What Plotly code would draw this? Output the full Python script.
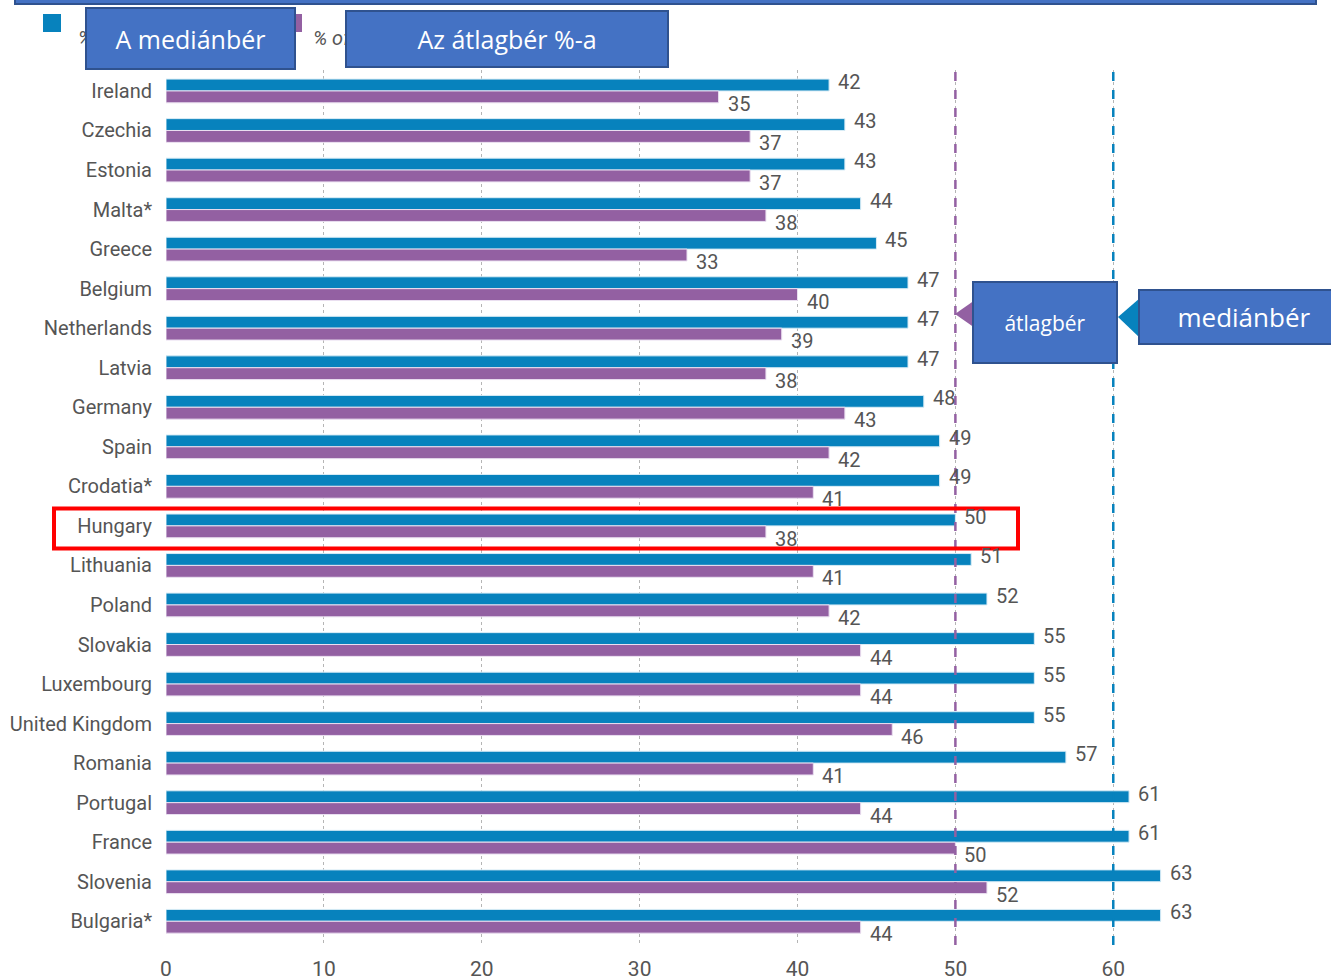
import plotly.graph_objects as go

countries = ["Ireland", "Czechia", "Estonia", "Malta*", "Greece", "Belgium", "Netherlands",
             "Latvia", "Germany", "Spain", "Crodatia*", "Hungary", "Lithuania", "Poland",
             "Slovakia", "Luxembourg", "United Kingdom", "Romania", "Portugal", "France",
             "Slovenia", "Bulgaria*"]
pct_median = [42, 43, 43, 44, 45, 47, 47, 47, 48, 49, 49, 50, 51, 52, 55, 55, 55, 57, 61, 61, 63, 63]
pct_mean = [35, 37, 37, 38, 33, 40, 39, 38, 43, 42, 41, 38, 41, 42, 44, 44, 46, 41, 44, 50, 52, 44]
x_ticks = [0, 10, 20, 30, 40, 50, 60]
mean_ref = 50
median_ref = 60
highlight = "Hungary"

BLUE = "#0782BD"
PURPLE = "#9360A2"
BOX = "#4472C4"
BOXLINE = "#2F528F"
GRAY = "#555555"
COND = "Roboto, Liberation Sans Narrow, DejaVu Sans Condensed, sans-serif"

W, H = 1331, 980
ML, MR, MT, MB = 166, 123, 70, 35
PW, PH = W - ML - MR, H - MT - MB
Y_RANGE = [21.6, -0.53]


def px(x):
    return (x - ML) / PW


def py(y):
    return (H - MB - y) / PH


def row_px(i):
    return MT + (i - Y_RANGE[1]) / (Y_RANGE[0] - Y_RANGE[1]) * PH


fig = go.Figure()
fig.add_trace(go.Bar(y=countries, x=pct_median, orientation="h", name="% of median",
                     marker=dict(color=BLUE, line=dict(color="#d8ecf6", width=1)),
                     showlegend=False))
fig.add_trace(go.Bar(y=countries, x=pct_mean, orientation="h", name="% of average",
                     marker=dict(color=PURPLE, line=dict(color="#eadff0", width=1)),
                     showlegend=False))

annotations = []
lab_font = dict(family=COND, size=20, color=GRAY)
for c, a, b in zip(countries, pct_median, pct_mean):
    annotations.append(dict(x=a, y=c, xref="x", yref="y", text=str(a), showarrow=False,
                            xanchor="left", xshift=7, yshift=9, font=lab_font))
    annotations.append(dict(x=b, y=c, xref="x", yref="y", text=str(b), showarrow=False,
                            xanchor="left", xshift=7, yshift=-13, font=lab_font))

# legend (partially covered by boxes, as in the original)
annotations.append(dict(x=px(76), y=py(24), xref="paper", yref="paper", text="<i>% of median</i>",
                        showarrow=False, xanchor="left", font=lab_font))
annotations.append(dict(x=px(311), y=py(24), xref="paper", yref="paper", text="<i>% of average</i>",
                        showarrow=False, xanchor="left", font=lab_font))


def box(text, x0, y0, x1, y1, size):
    return dict(x=px(x0), y=py(y0), xref="paper", yref="paper", xanchor="left", yanchor="top",
                text=text, showarrow=False, bgcolor=BOX, bordercolor=BOXLINE, borderwidth=2,
                borderpad=0, width=x1 - x0 - 4, height=y1 - y0 - 4, align="center", valign="middle",
                font=dict(family="Open Sans, Liberation Sans, sans-serif", size=size, color="white"))


annotations.append(box("A mediánbér", 85, 7, 296, 70, 25))
annotations.append(box("Az átlagbér %-a", 345, 10, 669, 68, 25))
annotations.append(box("átlagbér", 972, 281, 1118, 364, 21))
annotations.append(box("mediánbér", 1138, 289, 1350, 345, 26))

hi = countries.index(highlight)
row_c = row_px(hi)
shapes = [
    # top border of an upper box, cut off by the page
    dict(type="rect", xref="paper", yref="paper", x0=px(15), x1=px(1316), y0=py(-10), y1=py(4),
         fillcolor=BOX, line=dict(color=BOXLINE, width=2), layer="above"),
    # legend squares
    dict(type="rect", xref="paper", yref="paper", x0=px(43), x1=px(61), y0=py(32), y1=py(14),
         fillcolor=BLUE, line=dict(width=0), layer="above"),
    dict(type="rect", xref="paper", yref="paper", x0=px(290), x1=px(302), y0=py(32), y1=py(14),
         fillcolor=PURPLE, line=dict(width=0), layer="above"),
    # reference lines
    dict(type="line", xref="x", yref="paper", x0=mean_ref, x1=mean_ref, y0=0, y1=1.0,
         line=dict(color=PURPLE, width=2.5, dash="dash"), layer="above"),
    dict(type="line", xref="x", yref="paper", x0=median_ref, x1=median_ref, y0=0, y1=1.0,
         line=dict(color=BLUE, width=2.5, dash="dash"), layer="above"),
    # callout pointers
    dict(type="path", xref="paper", yref="paper",
         path=f"M {px(955)} {py(314)} L {px(975)} {py(300)} L {px(975)} {py(328)} Z",
         fillcolor=PURPLE, line=dict(width=0), layer="above"),
    dict(type="path", xref="paper", yref="paper",
         path=f"M {px(1118)} {py(317)} L {px(1140)} {py(298)} L {px(1140)} {py(338)} Z",
         fillcolor=BLUE, line=dict(width=0), layer="above"),
    # highlight rectangle around Hungary
    dict(type="rect", xref="paper", yref="paper", x0=px(54), x1=px(1018),
         y0=py(row_c + 22.5), y1=py(row_c - 17.5),
         line=dict(color="#FF0000", width=4), fillcolor="rgba(0,0,0,0)", layer="above"),
]

fig.update_layout(
    width=W, height=H,
    margin=dict(l=ML, r=MR, t=MT, b=MB, pad=0, autoexpand=False),
    paper_bgcolor="white", plot_bgcolor="white",
    barmode="group", bargap=0.4, bargroupgap=0,
    showlegend=False,
    annotations=annotations,
    shapes=shapes,
    xaxis=dict(range=[0, 66], tickvals=x_ticks, showgrid=True, gridcolor="#b5b5b5",
               griddash="dot", gridwidth=1, zeroline=False, showline=False, ticks="",
               automargin=False,
               tickfont=dict(family=COND, size=21, color=GRAY), ticklabelstandoff=9),
    yaxis=dict(range=Y_RANGE, showgrid=False, zeroline=False, showline=False, ticks="",
               automargin=False,
               tickfont=dict(family=COND, size=20, color=GRAY), ticklabelstandoff=13),
)

fig.write_html("out.html")
